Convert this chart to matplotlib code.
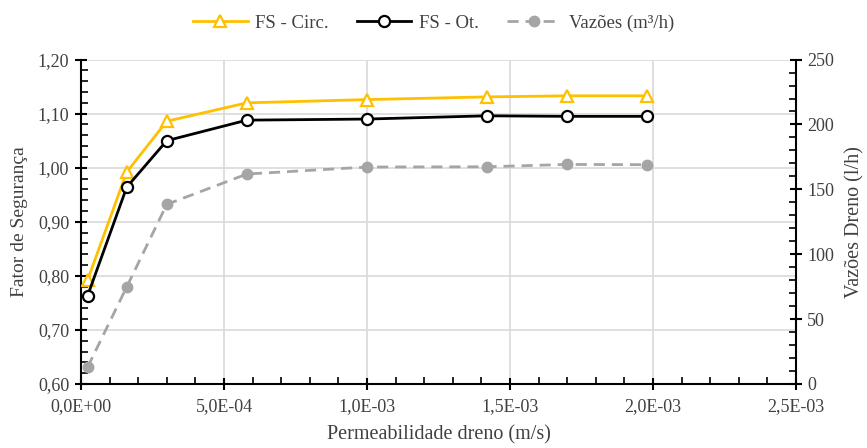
import matplotlib
matplotlib.use("Agg")
import matplotlib.pyplot as plt
from matplotlib.ticker import MultipleLocator, FuncFormatter

plt.rcParams['font.family'] = ['Liberation Serif', 'DejaVu Serif']

# Drain permeability (m/s)
permeabilidade = [2.3e-5, 1.6e-4, 3.0e-4, 5.8e-4, 1.0e-3, 1.42e-3, 1.70e-3, 1.98e-3]
# Safety factors
fs_circ = [0.792, 0.992, 1.086, 1.120, 1.126, 1.131, 1.133, 1.133]
fs_ot = [0.763, 0.964, 1.050, 1.088, 1.090, 1.096, 1.095, 1.095]
# Drain flow (l/h)
vazoes = [12.9, 74.8, 138.4, 161.8, 167.2, 167.4, 169.2, 169.0]

gold = '#FFC000'
gray = '#A5A5A5'
txt = '#404040'

fig = plt.figure(figsize=(8.67, 4.48), dpi=100)
ax = fig.add_axes([0.0934, 0.1429, 0.8246, 0.7241])
ax2 = ax.twinx()

l1, = ax.plot(permeabilidade, fs_circ, color=gold, lw=2, marker='^', ms=8,
              mfc='white', mec=gold, mew=1.6, label='FS - Circ.', zorder=4)
l2, = ax.plot(permeabilidade, fs_ot, color='black', lw=2, marker='o', ms=8,
              mfc='white', mec='black', mew=1.6, label='FS - Ot.', zorder=4)
l3, = ax2.plot(permeabilidade, vazoes, color=gray, lw=2, ls=(0, (4, 2.5)),
               marker='o', ms=7.5, mfc=gray, mec=gray,
               label='Vazões (m³/h)', zorder=3)

ax.set_xlim(0, 2.5e-3)
ax.set_ylim(0.6, 1.2)
ax2.set_ylim(0, 250)

ax.xaxis.set_major_locator(MultipleLocator(5e-4))
ax.xaxis.set_minor_locator(MultipleLocator(1e-4))
ax.yaxis.set_major_locator(MultipleLocator(0.1))
ax.yaxis.set_minor_locator(MultipleLocator(0.02))
ax2.yaxis.set_major_locator(MultipleLocator(50))
ax2.yaxis.set_minor_locator(MultipleLocator(10))


def sci_fmt(v, pos):
    return f'{v:.1E}'.replace('.', ',')


ax.xaxis.set_major_formatter(FuncFormatter(sci_fmt))
ax.yaxis.set_major_formatter(FuncFormatter(lambda v, p: f'{v:.2f}'.replace('.', ',')))
ax2.yaxis.set_major_formatter(FuncFormatter(lambda v, p: f'{v:.0f}'))

ax.grid(True, which='major', color='#D9D9D9', lw=1.2, zorder=0)
ax.set_axisbelow(True)

for a in (ax, ax2):
    a.spines['top'].set_visible(False)
    for s in a.spines.values():
        s.set_linewidth(1.5)
ax.spines['right'].set_visible(False)
ax2.spines['left'].set_visible(False)
ax2.spines['bottom'].set_visible(False)

ax.tick_params(axis='both', which='major', direction='inout', length=9, width=1.5,
               labelsize=13, labelcolor=txt)
ax.tick_params(axis='both', which='minor', direction='in', length=5, width=1.2)
ax2.tick_params(axis='y', which='major', direction='inout', length=9, width=1.5,
                labelsize=13, labelcolor=txt)
ax2.tick_params(axis='y', which='minor', direction='in', length=5, width=1.2)
ax.tick_params(axis='y', pad=4)
ax.tick_params(axis='x', pad=6)

ax.set_xlabel('Permeabilidade dreno (m/s)', fontsize=14.5, labelpad=7, color=txt)
ax.set_ylabel('Fator de Segurança', fontsize=14, labelpad=7, color=txt)
ax2.set_ylabel('Vazões Dreno (l/h)', fontsize=14.5, labelpad=8, color=txt)

fig.legend(handles=[l1, l2, l3], loc='upper center', bbox_to_anchor=(0.5, 1.005),
           ncol=3, frameon=False, fontsize=13.5, handlelength=2.9,
           columnspacing=1.5, handletextpad=0.4, labelcolor=txt)

fig.savefig('out.png', dpi=100)
